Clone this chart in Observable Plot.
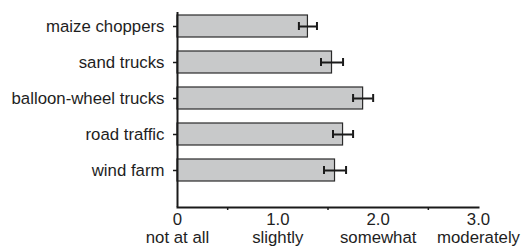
<!DOCTYPE html>
<html>
<head>
<meta charset="utf-8">
<script src="https://cdn.jsdelivr.net/npm/d3@7"></script>
<script src="https://cdn.jsdelivr.net/npm/@observablehq/plot@0.6"></script>
<style>
  html, body { margin: 0; padding: 0; background: #fff; }
</style>
</head>
<body>
<div id="chart"></div>
<script>
const categories = ["maize choppers", "sand trucks", "balloon-wheel trucks", "road traffic", "wind farm"];
const means = [1.30, 1.54, 1.85, 1.65, 1.57];
const errors = [0.09, 0.11, 0.10, 0.10, 0.11];
const tickValues = [0, 1, 2, 3];
const tickNumbers = ["0", "1.0", "2.0", "3.0"];
const tickWords = ["not at all", "slightly", "somewhat", "moderately"];
const minorTicks = [0.5, 1.5, 2.5];

const data = categories.map((c, i) => ({name: c, mean: means[i], lo: means[i] - errors[i], hi: means[i] + errors[i]}));

const font = "Liberation Sans, Arial, sans-serif";

const chart = Plot.plot({
  width: 526,
  height: 246,
  marginLeft: 177,
  marginRight: 48,
  marginTop: 12,
  marginBottom: 39,
  style: {fontFamily: font, fontSize: "16.8px", color: "#1e1e1e", background: "#fff"},
  x: {domain: [0, 3]},
  y: {domain: categories, range: [14, 181], paddingInner: 0.4, paddingOuter: 0},
  marks: [
    Plot.barX(data, {y: "name", x: "mean", fill: "#c8c9ca", stroke: "#2a2a2a", strokeWidth: 1.2}),
    Plot.ruleY(data, {y: "name", x1: "lo", x2: "hi", stroke: "#1a1a1a", strokeWidth: 2}),
    Plot.tickX(data, {y: "name", x: "lo", stroke: "#1a1a1a", strokeWidth: 2, insetTop: 7, insetBottom: 7}),
    Plot.tickX(data, {y: "name", x: "hi", stroke: "#1a1a1a", strokeWidth: 2, insetTop: 7, insetBottom: 7}),
    Plot.ruleX([0], {stroke: "#1a1a1a", strokeWidth: 2}),
    Plot.frame({anchor: "bottom", stroke: "#1a1a1a", strokeWidth: 2}),
    Plot.axisY({tickSize: 4, tickPadding: 9, label: null, fontSize: 16.8, stroke: "#1a1a1a", strokeWidth: 1.5}),
    Plot.axisX({ticks: minorTicks, tickSize: 3, tickFormat: () => "", label: null, stroke: "#1a1a1a", strokeWidth: 1.5}),
    Plot.axisX({ticks: tickValues, tickSize: 0, tickPadding: 5, label: null, fontSize: 16.8, lineHeight: 1.06,
      tickFormat: (d) => tickNumbers[tickValues.indexOf(d)] + "\n" + tickWords[tickValues.indexOf(d)]})
  ]
});
document.getElementById("chart").appendChild(chart);
</script>
</body>
</html>
